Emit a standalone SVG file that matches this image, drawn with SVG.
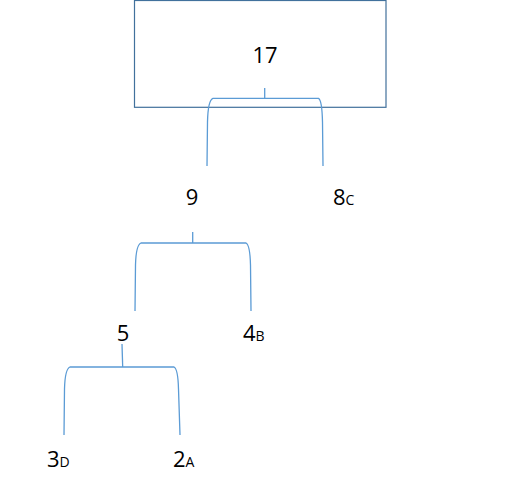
<svg xmlns="http://www.w3.org/2000/svg" width="505" height="493" viewBox="0 0 505 493">
<style>
.box{fill:#fff;stroke:#41719C;stroke-width:1.2}
.br{fill:none;stroke:#5B9BD5;stroke-width:1.3}
.t{font-family:"Open Sans","Noto Sans",sans-serif;font-size:22px;fill:#000}
.s{font-size:14px}
</style>
<rect width="505" height="493" fill="#fff"/>
<g id="node-17">
<rect class="box" x="134.5" y="0.5" width="251.5" height="106.8"/>
<text class="t" x="265" y="63" text-anchor="middle">17</text>
</g>
<g id="node-9"><text class="t" x="192" y="205" text-anchor="middle">9</text></g>
<g id="node-8C"><text class="t" x="333" y="205">8<tspan class="s">C</tspan></text></g>
<g id="node-5"><text class="t" x="123" y="341" text-anchor="middle">5</text></g>
<g id="node-4B"><text class="t" x="243" y="341">4<tspan class="s">B</tspan></text></g>
<g id="node-3D"><text class="t" x="47" y="467">3<tspan class="s">D</tspan></text></g>
<g id="node-2A"><text class="t" x="173" y="467">2<tspan class="s">A</tspan></text></g>
<g id="connectors">
<path class="br" d="M264.7,88 V98.3"/>
<path class="br" d="M207,166 L207.5,122 Q208,100 213,98.3 L318.5,98.3 Q322,100 322.5,122 L323,166"/>
<path class="br" d="M192.7,232 V243"/>
<path class="br" d="M135,311 L135.5,265 Q136,245 141,243 L246,243 Q250,245 250.5,265 L251,311"/>
<path class="br" d="M122,344 L122.7,367"/>
<path class="br" d="M64,435 L64.5,389 Q65,369 70,367 L174,367 Q178,369 178.5,389 L180,435"/>
</g>
</svg>
